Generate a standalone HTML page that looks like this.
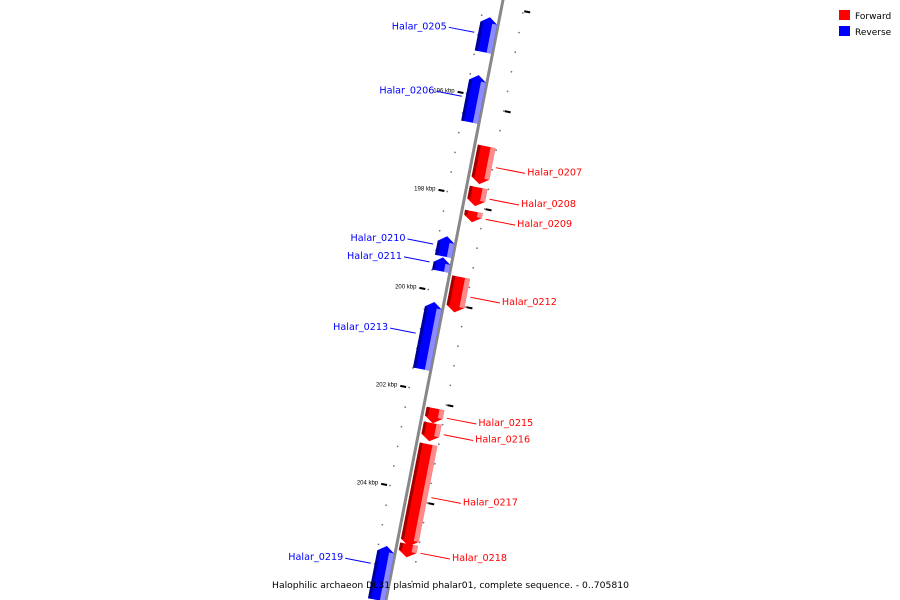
<!DOCTYPE html>
<html><head><meta charset="utf-8"><style>
body{margin:0;background:#fff;width:900px;height:600px;overflow:hidden}
svg{display:block;font-family:"DejaVu Sans","Liberation Sans",sans-serif}
</style></head><body>
<svg id="map" width="900" height="600" viewBox="0 0 900 600">
<rect width="900" height="600" fill="#fff"/>
<g id="ticks"></g>
<line id="backbone" stroke="#888" stroke-width="3"/>
<g id="genes"></g>
<g id="labels"></g>
<g>
<rect x="839" y="10" width="11" height="10" fill="#ff0000"/>
<text x="855" y="19" font-size="9" fill="#000">Forward</text>
<rect x="839" y="26" width="11" height="10" fill="#0000ff"/>
<text x="855" y="35" font-size="9" fill="#000">Reverse</text>
</g>
<text x="272" y="588" font-size="9" textLength="357" lengthAdjust="spacingAndGlyphs" fill="#000">Halophilic archaeon DL31 plasmid phalar01, complete sequence. - 0..705810</text>
</svg>
<script>
const geneNames = ["Halar_0205","Halar_0206","Halar_0207","Halar_0208","Halar_0209","Halar_0210","Halar_0211","Halar_0212","Halar_0213","Halar_0215","Halar_0216","Halar_0217","Halar_0218","Halar_0219"];
const geneStart = [194.41,195.59,196.96,197.80,198.29,198.88,199.31,199.63,200.22,202.31,202.61,203.04,205.08,205.20];
const geneEnd   = [195.12,196.55,197.73,198.18,198.51,199.29,199.59,200.35,201.59,202.61,202.98,205.12,205.35,206.30];
const geneStrand = [-1,-1,1,1,1,-1,-1,1,-1,1,1,1,1,-1];
const majorTicks = [196,198,200,202,204];
const tickLabels = ["196 kbp","198 kbp","200 kbp","202 kbp","204 kbp"];
const innerTicks = [194.16,196.2,198.2,200.2,202.2,204.2];

const NS="http://www.w3.org/2000/svg";
const Y0=97, PXK=49;
function ky(k){return Y0+(k-196)*PXK;}
function lx(y){return 503-0.195*y;}
const nx=0.981, ny=0.191;
function pt(k,o){const y=ky(k);return [lx(y)+o*nx, y+o*ny];}
function P(a){return a.map(p=>p[0].toFixed(1)+","+p[1].toFixed(1)).join(" ");}
function mk(tag,attrs,parent){const e=document.createElementNS(NS,tag);for(const a in attrs)e.setAttribute(a,attrs[a]);parent.appendChild(e);return e;}

const bb=document.getElementById("backbone");
bb.setAttribute("x1",lx(-10));bb.setAttribute("y1",-10);bb.setAttribute("x2",lx(610));bb.setAttribute("y2",610);

const tg=document.getElementById("ticks");
for(let k=194.0;k<=206.2;k+=0.4){
  const a=pt(k,-18),b=pt(k+0.2,22);
  const d1=mk("circle",{cx:a[0],cy:a[1],r:0.9,fill:"#777"},tg);
  
  
  const d2=mk("circle",{cx:b[0],cy:b[1],r:0.9,fill:"#777"},tg);
  
  
}
majorTicks.forEach((k,i)=>{
  const a=pt(k,-21),b=pt(k,-27);
  const l=mk("line",{x1:a[0],y1:a[1],x2:b[0],y2:b[1],stroke:"#000","stroke-width":2},tg);
  
  
  const c=pt(k,-30);
  const t=mk("text",{x:c[0],y:c[1]+1,"font-size":6,"font-family":"Liberation Sans, sans-serif","text-anchor":"end",fill:"#000"},tg);
  t.textContent=tickLabels[i];
  
  
});
innerTicks.forEach(k=>{
  const a=pt(k,23),b=pt(k,29);
  const l=mk("line",{x1:a[0],y1:a[1],x2:b[0],y2:b[1],stroke:"#000","stroke-width":2},tg);
  
  
});

const gg=document.getElementById("genes"), lg=document.getElementById("labels");
geneNames.forEach((name,i)=>{
  const s=geneStart[i], e=geneEnd[i], fwd=geneStrand[i]>0;
  const o1=fwd?3:-18, o2=fwd?21:-1, om=(o1+o2)/2;
  const h=0.12;
  const main=fwd?"#ff0000":"#0000ff", dark=fwd?"#a00000":"#00009a", light=fwd?"#ff8a8a":"#8c8cff";
  function shape(a,b){
    if(fwd) return [pt(s,a),pt(s,b),pt(e-h,b),pt(e,om),pt(e-h,a)];
    return [pt(e,a),pt(e,b),pt(s+h,b),pt(s,om),pt(s+h,a)];
  }
  const g=mk("g",{},gg);
  
  
  mk("polygon",{points:P(shape(o1,o2)),fill:main},g);
  const L=shape(o2-5,o2); mk("polygon",{points:P([L[0],L[1],L[2],L[4]]),fill:light},g);
  const D=shape(o1,o1+3); mk("polygon",{points:P([D[0],D[1],D[2],D[4]]),fill:dark},g);
  const mid=(s+Math.min(e,206))/2;
  const c=fwd?"#ff0000":"#0000ff";
  const a=pt(mid,fwd?o2+4:o1-4);
  const b=pt(mid,fwd?o2+34:o1-30);
  const ln=mk("line",{x1:a[0],y1:a[1],x2:b[0],y2:b[1],stroke:c,"stroke-width":1},lg);
  
  
  const t=mk("text",{x:b[0]+(fwd?2:-2),y:b[1]+2,"font-size":10,textLength:55,lengthAdjust:"spacingAndGlyphs","text-anchor":fwd?"start":"end",fill:c},lg);
  t.textContent=name;
  
  
});
</script>
</body></html>
